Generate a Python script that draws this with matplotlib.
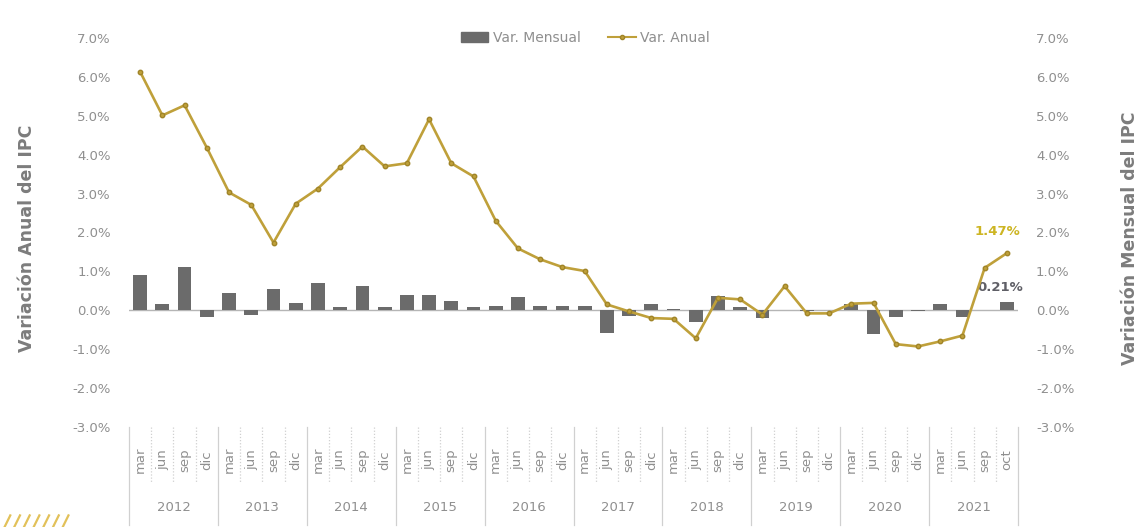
import matplotlib
matplotlib.use("Agg")
import matplotlib.pyplot as plt
import matplotlib.transforms as mtransforms
from matplotlib.lines import Line2D
from matplotlib.ticker import FuncFormatter

# Quarterly IPC series, 2012 - oct 2021
years = ["2012", "2013", "2014", "2015", "2016", "2017", "2018", "2019", "2020", "2021"]
months_std = ["mar", "jun", "sep", "dic"]
months_2021 = ["mar", "jun", "sep", "oct"]
months = months_std * 9 + months_2021

# Var. Anual (%)
var_anual = [6.13, 5.01, 5.27, 4.18,
             3.03, 2.71, 1.74, 2.74,
             3.13, 3.68, 4.21, 3.70,
             3.78, 4.91, 3.78, 3.44,
             2.30, 1.59, 1.31, 1.11,
             1.01, 0.15, -0.03, -0.20,
             -0.22, -0.72, 0.32, 0.28,
             -0.11, 0.62, -0.08, -0.08,
             0.17, 0.19, -0.87, -0.93,
             -0.80, -0.65, 1.09, 1.47]

# Var. Mensual (%)
var_mensual = [0.90, 0.16, 1.11, -0.18,
               0.45, -0.12, 0.55, 0.19,
               0.71, 0.08, 0.62, 0.08,
               0.40, 0.40, 0.25, 0.08,
               0.10, 0.35, 0.12, 0.12,
               0.12, -0.58, -0.14, 0.15,
               0.04, -0.30, 0.38, 0.09,
               -0.20, 0.01, -0.02, 0.01,
               0.17, -0.62, -0.16, -0.01,
               0.17, -0.18, 0.02, 0.21]

BAR_COLOR = "#6b6b6b"
LINE_COLOR = "#bfa03a"
TEXT_COLOR = "#8f8f8f"
LABEL_GOLD = "#cdb523"
FONT = "DejaVu Sans"

plt.rcParams["font.family"] = [FONT]

fig = plt.figure(figsize=(11.41, 5.27), dpi=100)
ax = fig.add_axes([0.1131, 0.1898, 0.7791, 0.7381])
ax2 = ax.twinx()

x = list(range(len(months)))

# monthly variation bars on the right axis
ax2.bar(x, var_mensual, width=0.62, color=BAR_COLOR, zorder=2,
        label="Var. Mensual")
# annual variation line on the left axis, drawn above the bars
ax.plot(x, var_anual, color=LINE_COLOR, lw=1.9, marker="o", ms=3.2,
        mec="#a08428", mfc=LINE_COLOR, zorder=3, label="Var. Anual")
ax.set_zorder(ax2.get_zorder() + 1)
ax.patch.set_visible(False)

for a in (ax, ax2):
    a.set_ylim(-3, 7)
    a.set_xlim(-0.5, len(months) - 0.5)
    a.set_yticks([-3, -2, -1, 0, 1, 2, 3, 4, 5, 6, 7])
    a.yaxis.set_major_formatter(FuncFormatter(lambda v, p: f"{v:.1f}%"))
    for s in a.spines.values():
        s.set_visible(False)
    a.tick_params(axis="y", length=0, pad=13, labelsize=9.5,
                  labelcolor=TEXT_COLOR)
    a.tick_params(axis="x", length=0)
    a.set_xticks([])

# zero line
ax2.axhline(0, color="#b5b5b5", lw=1.0, zorder=1)

# two-level category axis: months and years
trans = mtransforms.blended_transform_factory(ax.transData, ax.transAxes)
for i, m in enumerate(months):
    ax.text(i, -0.085, m, transform=trans, rotation=90, ha="center",
            va="center", fontsize=9.5, color=TEXT_COLOR, clip_on=False)
n_per_year = 4
for k, yr in enumerate(years):
    ax.text(k * n_per_year + 1.5, -0.207, yr, transform=trans, ha="center",
            va="center", fontsize=9.5, color=TEXT_COLOR, clip_on=False)
for i in range(len(months) + 1):
    edge = i - 0.5
    if i % n_per_year == 0:
        ax.add_line(Line2D([edge, edge], [0.0, -0.252], transform=trans,
                           color="#d0d0d0", lw=0.9, clip_on=False))
    else:
        ax.add_line(Line2D([edge, edge], [0.0, -0.142], transform=trans,
                           color="#d0d0d0", lw=0.9, ls=(0, (1, 1.5)),
                           clip_on=False))

# value labels for the latest observation
last = len(months) - 1
ax.annotate(f"{var_anual[last]:.2f}%", (x[last], var_anual[last]),
            xytext=(-7, 11), textcoords="offset points", ha="center",
            va="bottom", fontsize=9.5, color=LABEL_GOLD, fontweight="bold")
ax2.annotate(f"{var_mensual[last]:.2f}%", (x[last], var_mensual[last]),
             xytext=(-5, 6), textcoords="offset points", ha="center",
             va="bottom", fontsize=9.5, color="#5f5f66", fontweight="bold")

# axis titles
fig.text(0.0235, 0.548, "Variación Anual del IPC", rotation=90, ha="center",
         va="center", fontsize=12.5, fontweight="bold", color="#7c7c7c")
fig.text(0.998, 0.548, "Variación Mensual del IPC", rotation=90, ha="right",
         va="center", fontsize=12.5, fontweight="bold", color="#7c7c7c")

# legend
handles = [plt.Rectangle((0, 0), 1, 1, color=BAR_COLOR),
           Line2D([0], [0], color=LINE_COLOR, lw=1.5, marker="o", ms=3,
                  mfc=LINE_COLOR, mec="#a08428")]
fig.legend(handles, ["Var. Mensual", "Var. Anual"], loc="center",
           bbox_to_anchor=(0.513, 0.928), ncol=2, frameon=False,
           fontsize=10, labelcolor=TEXT_COLOR, handlelength=2.0,
           handleheight=0.7, columnspacing=2.0, handletextpad=0.3)

# small striped corner mark
for j in range(7):
    x0 = 0.004 + j * 0.0085
    fig.add_artist(Line2D([x0, x0 + 0.005], [0.0, 0.022], color="#e2c15a",
                          lw=1.6, transform=fig.transFigure))

fig.savefig("out.png", dpi=100, facecolor="white")
